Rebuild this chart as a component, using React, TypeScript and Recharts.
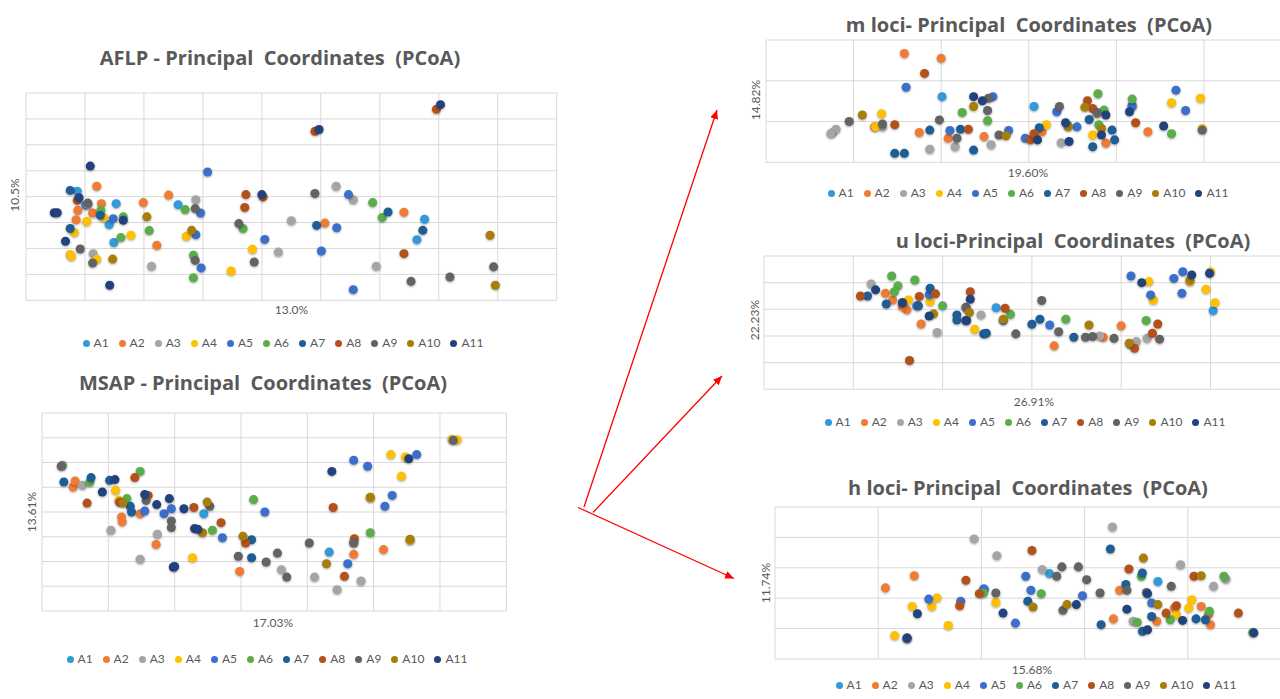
import React from 'react';
import { ScatterChart, Scatter, XAxis, YAxis, ZAxis, CartesianGrid, Legend } from 'recharts';

type Pt = [number, number];

const SERIES = ['A1', 'A2', 'A3', 'A4', 'A5', 'A6', 'A7', 'A8', 'A9', 'A10', 'A11'];
const COLORS = ['#3399DB', '#F07B34', '#A5A5A5', '#FFC000', '#3C6FCB', '#5AAE4A', '#1F5E94', '#B4501A', '#636363', '#A87E0A', '#22427E'];

// ---------- AFLP ----------
const AFLP_A1: Pt[] = [[0.87, 4.21], [1.53, 3.73], [1.41, 2.92], [1.49, 2.23], [2.58, 3.69], [6.76, 3.13], [6.63, 2.34], [1.01, 3.68]];
const AFLP_A2: Pt[] = [[1.2, 4.4], [1.28, 3.73], [0.88, 3.47], [0.85, 3.11], [1.13, 3.37], [1.99, 3.77], [2.42, 4.06], [2.22, 2.12], [5.07, 2.98], [6.41, 3.4]];
const AFLP_A3: Pt[] = [[1.05, 3.7], [2.88, 3.88], [2.13, 1.31], [1.14, 1.8], [4.28, 1.86], [4.5, 3.07], [5.26, 4.4], [5.55, 3.88], [5.94, 1.31]];
const AFLP_A4: Pt[] = [[1.03, 3.04], [0.82, 2.62], [0.75, 1.77], [1.2, 1.58], [1.32, 3.19], [1.78, 2.51], [2.72, 2.47], [3.84, 1.97], [3.48, 1.13], [0.77, 1.7]];
const AFLP_A5: Pt[] = [[3.08, 4.95], [2.96, 3.37], [2.88, 2.53], [2.97, 1.25], [1.48, 3.15], [4.05, 2.35], [5.01, 1.9], [5.27, 2.8], [5.47, 4.08], [5.55, 0.41]];
const AFLP_A6: Pt[] = [[1.27, 3.47], [1.61, 2.42], [1.65, 3.22], [2.09, 2.69], [2.7, 3.5], [2.84, 1.74], [2.84, 0.87], [3.68, 2.77], [5.88, 3.77], [6.04, 3.19]];
const AFLP_A7: Pt[] = [[0.75, 4.24], [0.75, 2.77], [1.26, 3.28], [4.93, 2.89], [6.73, 2.7], [6.14, 3.41]];
const AFLP_A8: Pt[] = [[6.96, 7.37], [4.9, 6.52], [3.73, 4.08], [3.71, 3.58], [4.02, 3.99], [6.41, 1.8], [0.87, 3.86]];
const AFLP_A9: Pt[] = [[0.92, 1.98], [1.13, 1.44], [2.87, 3.54], [2.87, 1.54], [3.61, 2.96], [3.87, 1.48], [4.9, 4.12], [6.53, 0.73], [7.19, 0.9], [7.93, 1.29], [1.05, 3.75]];
const AFLP_A10: Pt[] = [[2.05, 3.22], [2.81, 2.7], [1.47, 1.59], [7.87, 2.51], [7.96, 0.58]];
const AFLP_A11: Pt[] = [[0.48, 3.38], [0.53, 3.38], [1.09, 5.18], [0.9, 3.96], [1.42, 0.58], [0.67, 2.28], [1.65, 3.09], [7.03, 7.55], [4.97, 6.59], [4.0, 4.08]];
const AFLP_SERIES = [AFLP_A1, AFLP_A2, AFLP_A3, AFLP_A4, AFLP_A5, AFLP_A6, AFLP_A7, AFLP_A8, AFLP_A9, AFLP_A10, AFLP_A11];
const AFLP_X_TICKS = [0, 1, 2, 3, 4, 5, 6, 7, 8, 9];
const AFLP_Y_TICKS = [0, 1, 2, 3, 4, 5, 6, 7, 8];

// ---------- MSAP ----------
const MSAP_A1: Pt[] = [[2.44, 3.93], [4.33, 2.38]];
const MSAP_A2: Pt[] = [[0.47, 5.01], [0.5, 5.25], [1.2, 3.8], [1.21, 3.6], [1.48, 3.93], [1.72, 2.69], [2.98, 1.6], [4.7, 2.29], [5.15, 2.48]];
const MSAP_A3: Pt[] = [[0.61, 5.08], [1.04, 3.26], [1.74, 3.1], [1.48, 2.09], [3.61, 1.67], [4.11, 1.37], [4.45, 0.86], [4.81, 1.21], [4.7, 2.79]];
const MSAP_A4: Pt[] = [[6.18, 6.94], [6.26, 6.92], [5.26, 6.32], [5.48, 6.22], [5.42, 5.44], [4.95, 4.58], [5.55, 2.86], [2.27, 2.15], [1.11, 4.88], [1.16, 4.47]];
const MSAP_A5: Pt[] = [[4.7, 6.09], [4.91, 5.85], [5.65, 6.32], [5.28, 4.67], [5.17, 4.23], [3.36, 4.0], [4.61, 1.91], [1.55, 4.04], [1.84, 3.93], [2.72, 2.96], [1.95, 4.13]];
const MSAP_A6: Pt[] = [[0.31, 5.89], [1.48, 5.64], [1.28, 4.54], [3.19, 4.5], [2.57, 3.26], [4.95, 3.16], [0.72, 5.2]];
const MSAP_A7: Pt[] = [[0.33, 5.21], [0.74, 5.39], [1.33, 4.23], [1.35, 4.0], [3.16, 2.88], [3.16, 2.15], [1.02, 5.28]];
const MSAP_A8: Pt[] = [[0.68, 4.36], [1.4, 5.39], [1.17, 4.4], [1.6, 4.67], [2.29, 4.18], [2.7, 3.57], [3.07, 2.75], [4.39, 4.18], [4.71, 2.92], [4.56, 1.4]];
const MSAP_A9: Pt[] = [[0.29, 5.85], [1.57, 4.47], [1.95, 3.64], [1.95, 3.37], [2.53, 4.23], [2.96, 2.21], [3.38, 1.98], [3.55, 2.34], [3.69, 1.37], [4.03, 2.75], [4.7, 2.75], [6.2, 6.9]];
const MSAP_A10: Pt[] = [[1.22, 4.36], [2.49, 4.4], [2.42, 3.16], [3.03, 3.02], [4.29, 1.91], [5.55, 2.9], [4.95, 4.6]];
const MSAP_A11: Pt[] = [[5.53, 6.15], [4.37, 5.64], [0.91, 4.81], [1.1, 5.31], [1.55, 4.71], [1.92, 4.54], [2.3, 3.33], [1.98, 1.78], [2.14, 4.13], [1.73, 4.3], [2.35, 3.3], [2.0, 1.8]];
const MSAP_SERIES = [MSAP_A1, MSAP_A2, MSAP_A3, MSAP_A4, MSAP_A5, MSAP_A6, MSAP_A7, MSAP_A8, MSAP_A9, MSAP_A10, MSAP_A11];
const MSAP_X_TICKS = [0, 1, 2, 3, 4, 5, 6, 7];
const MSAP_Y_TICKS = [0, 1, 2, 3, 4, 5, 6, 7, 8];

// ---------- m loci ----------
const M_A1: Pt[] = [[2.01, 1.61], [3.06, 1.37], [4.18, 1.4]];
const M_A2: Pt[] = [[1.58, 2.67], [2.0, 2.55], [1.75, 0.73], [1.24, 0.87], [2.08, 0.59], [2.49, 0.63], [4.36, 0.75], [3.88, 0.47], [3.15, 0.75]];
const M_A3: Pt[] = [[0.76, 0.73], [0.8, 0.81], [1.87, 0.32], [2.16, 0.38], [2.57, 0.43], [3.37, 0.48], [3.78, 1.2], [1.33, 0.87], [0.74, 0.7]];
const M_A4: Pt[] = [[1.32, 1.19], [1.25, 0.87], [3.2, 0.92], [3.73, 0.67], [4.63, 1.46], [4.96, 1.57], [4.98, 0.83]];
const M_A5: Pt[] = [[1.6, 1.84], [2.59, 1.61], [2.1, 0.78], [2.77, 0.78], [3.32, 1.24], [2.96, 0.59], [3.55, 0.87], [4.68, 1.77], [4.79, 1.27], [4.18, 1.37]];
const M_A6: Pt[] = [[2.24, 1.22], [2.53, 1.02], [3.79, 1.68], [3.86, 1.28], [3.8, 0.92], [4.18, 1.55], [4.63, 0.7], [3.45, 0.9]];
const M_A7: Pt[] = [[1.47, 0.22], [1.58, 0.22], [1.87, 0.79], [2.22, 0.81], [2.37, 0.3], [3.12, 0.85], [3.69, 1.05], [3.73, 0.38], [3.95, 0.79], [3.98, 0.55]];
const M_A8: Pt[] = [[1.81, 2.18], [1.47, 0.92], [2.31, 0.81], [3.67, 1.51], [3.73, 1.32], [4.22, 0.97], [3.02, 0.55], [3.06, 0.7]];
const M_A9: Pt[] = [[0.95, 1.0], [1.33, 0.94], [1.98, 1.04], [2.18, 0.59], [2.53, 1.27], [2.54, 1.57], [2.66, 0.67], [3.35, 1.37], [3.78, 1.22], [4.98, 0.79]];
const M_A10: Pt[] = [[1.1, 1.16], [2.37, 1.37], [2.74, 0.65], [3.45, 0.87], [3.64, 1.35], [3.83, 0.83]];
const M_A11: Pt[] = [[2.37, 1.61], [2.47, 1.51], [3.42, 0.97], [3.46, 0.51], [3.1, 0.55], [3.88, 1.16], [4.15, 1.24], [4.54, 0.89], [3.83, 0.67]];
const M_SERIES = [M_A1, M_A2, M_A3, M_A4, M_A5, M_A6, M_A7, M_A8, M_A9, M_A10, M_A11];
const M_X_TICKS = [0, 1, 2, 3, 4, 5, 6];
const M_Y_TICKS = [0, 1, 2, 3];

// ---------- u loci ----------
const U_A1: Pt[] = [[2.6, 3.06], [5.03, 2.95], [4.1, 1.7]];
const U_A2: Pt[] = [[1.36, 3.6], [1.44, 3.35], [1.6, 2.98], [1.76, 2.45], [3.25, 1.63], [4.0, 2.38], [3.8, 1.95], [1.55, 3.1]];
const U_A3: Pt[] = [[1.2, 3.95], [1.94, 2.13], [2.43, 2.79], [3.76, 2.0], [4.17, 1.79], [4.29, 1.91], [2.27, 3.04]];
const U_A4: Pt[] = [[1.62, 3.35], [1.86, 3.29], [2.36, 2.25], [4.31, 4.04], [4.36, 3.35], [4.77, 4.04], [4.95, 3.75], [5.05, 3.25], [5.0, 4.41]];
const U_A5: Pt[] = [[4.11, 4.25], [4.33, 3.54], [4.59, 4.16], [4.69, 4.41], [4.68, 3.6], [3.2, 2.41], [1.71, 3.13], [2.68, 2.58], [1.85, 3.55]];
const U_A6: Pt[] = [[1.43, 4.25], [1.5, 3.88], [1.46, 3.66], [1.69, 4.1], [2.0, 3.13], [2.76, 2.81], [3.38, 2.63], [4.28, 2.58]];
const U_A7: Pt[] = [[1.16, 3.5], [1.37, 3.2], [1.73, 3.13], [1.86, 3.79], [2.16, 2.79], [2.16, 2.6], [2.27, 2.58], [2.46, 2.08], [3.0, 2.44], [3.09, 2.63], [3.47, 1.95], [2.49, 2.1]];
const U_A8: Pt[] = [[1.08, 3.5], [1.74, 3.48], [1.92, 3.58], [2.31, 3.66], [2.7, 3.04], [1.63, 1.08], [4.41, 2.45], [4.35, 2.1], [4.15, 1.54]];
const U_A9: Pt[] = [[3.11, 3.33], [2.26, 3.08], [2.82, 2.08], [3.3, 2.16], [3.6, 1.95], [3.68, 1.98], [3.92, 1.91], [4.43, 1.88], [1.55, 3.25]];
const U_A10: Pt[] = [[1.9, 2.83], [2.3, 2.88], [2.68, 2.63], [3.64, 2.41], [4.09, 1.73], [4.77, 4.1]];
const U_A11: Pt[] = [[1.25, 3.73], [1.55, 3.25], [1.85, 2.75], [2.31, 3.38], [2.26, 2.58], [4.23, 4.0], [4.79, 4.29], [4.99, 4.35]];
const U_SERIES = [U_A1, U_A2, U_A3, U_A4, U_A5, U_A6, U_A7, U_A8, U_A9, U_A10, U_A11];
const U_X_TICKS = [0, 1, 2, 3, 4, 5, 6];
const U_Y_TICKS = [0, 1, 2, 3, 4, 5];

// ---------- h loci ----------
const H_A1: Pt[] = [[2.66, 2.81], [3.71, 2.55], [2.03, 2.3]];
const H_A2: Pt[] = [[1.07, 2.34], [1.35, 2.74], [3.28, 1.32], [3.34, 2.26], [4.13, 1.73], [4.2, 1.46], [4.22, 1.13], [3.7, 1.24], [3.87, 1.68]];
const H_A3: Pt[] = [[1.93, 3.95], [2.15, 3.4], [2.59, 2.94], [3.27, 4.34], [3.93, 3.1], [4.25, 2.39], [4.37, 2.63], [3.47, 1.24]];
const H_A4: Pt[] = [[1.33, 1.73], [1.52, 1.73], [1.57, 2.01], [1.68, 1.1], [1.16, 0.77], [2.14, 1.86], [3.89, 1.46], [4.04, 1.95], [4.01, 1.68], [1.28, 0.7]];
const H_A5: Pt[] = [[1.49, 1.97], [1.8, 1.9], [2.02, 2.3], [2.43, 2.72], [2.48, 2.26], [2.33, 1.18], [2.98, 2.08], [3.65, 1.84]];
const H_A6: Pt[] = [[2.02, 2.17], [2.58, 2.15], [3.51, 1.21], [3.55, 2.72], [3.83, 1.29], [4.21, 1.57], [4.35, 2.72], [4.63, 0.88]];
const H_A7: Pt[] = [[3.25, 3.62], [3.56, 2.83], [2.45, 1.9], [3.16, 1.13], [3.56, 0.91], [3.65, 1.4], [4.08, 1.32], [4.17, 1.29], [3.4, 2.45]];
const H_A8: Pt[] = [[1.85, 2.59], [1.98, 2.15], [1.79, 1.75], [2.49, 3.57], [3.43, 2.96], [4.06, 2.72], [3.89, 1.75], [3.79, 1.51], [4.49, 1.51]];
const H_A9: Pt[] = [[2.14, 2.17], [2.73, 2.72], [2.78, 3.03], [2.94, 3.03], [3.02, 2.61], [2.79, 1.6], [3.15, 2.17], [3.41, 2.26], [3.84, 2.39], [3.6, 2.19], [1.28, 0.68]];
const H_A10: Pt[] = [[3.57, 3.32], [4.13, 2.74], [2.83, 1.79], [2.5, 1.71], [3.71, 1.79]];
const H_A11: Pt[] = [[1.38, 1.49], [1.28, 0.69], [2.21, 1.51], [2.92, 1.79], [3.41, 1.64], [3.61, 2.15], [3.61, 0.96], [3.95, 1.27], [4.64, 0.86]];
const H_SERIES = [H_A1, H_A2, H_A3, H_A4, H_A5, H_A6, H_A7, H_A8, H_A9, H_A10, H_A11];
const H_X_TICKS = [0, 1, 2, 3, 4, 5];
const H_Y_TICKS = [0, 1, 2, 3, 4, 5];

const TEXT = '#595959';
const FONT = 'Lato, "Open Sans", sans-serif';
const TITLE_FONT = '"Open Sans", Lato, sans-serif';

interface Box { x: number; y: number; w: number; h: number }
interface Pos { cx: number; cy: number }

interface PanelProps {
  series: Pt[][];
  plot: Box;
  xTicks: number[];
  yTicks: number[];
  title: string;
  titlePos: Pos;
  xLabel: string;
  xLabelPos: Pos;
  yLabel: string;
  yLabelPos: Pos;
  legendPos: Pos;
}

const NoTick = () => <g />;

const Panel: React.FC<PanelProps> = ({ series, plot, xTicks, yTicks, title, titlePos, xLabel, xLabelPos, yLabel, yLabelPos, legendPos }) => {
  const M = 10;
  const BOTTOM = 80;
  const left = plot.x - M;
  const top = plot.y - M;
  const w = plot.w + 2 * M;
  const h = plot.h + M + BOTTOM;
  const legendW = 470;
  return (
    <>
      <div style={{ position: 'absolute', left, top, width: w, height: h }}>
        <ScatterChart width={w} height={h} margin={{ top: M, left: M, right: M, bottom: BOTTOM }}>
          <CartesianGrid stroke="#D9D9D9" strokeWidth={1} />
          <XAxis
            type="number"
            dataKey="x"
            domain={[xTicks[0], xTicks[xTicks.length - 1]]}
            ticks={xTicks}
            interval={0}
            tick={NoTick}
            tickLine={false}
            axisLine={false}
            height={0}
            allowDataOverflow
          />
          <YAxis
            type="number"
            dataKey="y"
            domain={[yTicks[0], yTicks[yTicks.length - 1]]}
            ticks={yTicks}
            interval={0}
            tick={NoTick}
            tickLine={false}
            axisLine={false}
            width={0}
            allowDataOverflow
          />
          <ZAxis range={[78, 78]} />
          <Legend
            layout="horizontal"
            verticalAlign="middle"
            align="center"
            iconType="circle"
            iconSize={7}
            itemSorter={(item: any) => SERIES.indexOf(item.value)}
            formatter={(v: any) => <span style={{ color: TEXT }}>{v}</span>}
            wrapperStyle={{
              left: legendPos.cx - legendW / 2 - left + 5,
              top: legendPos.cy - 9 - top,
              width: legendW,
              height: 18,
              fontSize: 12,
              lineHeight: '18px',
              fontFamily: FONT,
            }}
          />
          {series.map((pts, i) => (
            <Scatter
              key={SERIES[i]}
              name={SERIES[i]}
              data={pts.map(([x, y]) => ({ x, y }))}
              fill={COLORS[i]}
              shape="circle"
              isAnimationActive={false}
            />
          ))}
        </ScatterChart>
      </div>
      <div
        style={{
          position: 'absolute',
          left: titlePos.cx,
          top: titlePos.cy,
          transform: 'translate(-50%, -50%)',
          whiteSpace: 'pre',
          fontWeight: 700,
          fontSize: 20,
          lineHeight: 1,
          color: TEXT,
          fontFamily: TITLE_FONT,
        }}
      >
        {title}
      </div>
      <div
        style={{
          position: 'absolute',
          left: xLabelPos.cx,
          top: xLabelPos.cy,
          transform: 'translate(-50%, -50%)',
          whiteSpace: 'pre',
          fontSize: 12,
          lineHeight: 1,
          color: TEXT,
        }}
      >
        {xLabel}
      </div>
      <div
        style={{
          position: 'absolute',
          left: yLabelPos.cx,
          top: yLabelPos.cy,
          transform: 'translate(-50%, -50%) rotate(-90deg)',
          whiteSpace: 'pre',
          fontSize: 12,
          lineHeight: 1,
          color: TEXT,
        }}
      >
        {yLabel}
      </div>
    </>
  );
};

const Arrows: React.FC = () => (
  <svg width={1280} height={699} style={{ position: 'absolute', left: 0, top: 0, pointerEvents: 'none' }}>
    <defs>
      <marker id="redArrow" markerWidth="9" markerHeight="8" refX="9" refY="4" orient="auto" markerUnits="userSpaceOnUse">
        <path d="M0,0 L9,4 L0,8 z" fill="#FF0000" />
      </marker>
    </defs>
    <line x1={584} y1={507} x2={717} y2={110} stroke="#FF0000" strokeWidth={1.3} markerEnd="url(#redArrow)" />
    <line x1={593} y1={512.5} x2={722} y2={376} stroke="#FF0000" strokeWidth={1.3} markerEnd="url(#redArrow)" />
    <line x1={578} y1={507.5} x2={734} y2={578.5} stroke="#FF0000" strokeWidth={1.3} markerEnd="url(#redArrow)" />
  </svg>
);

export default function App() {
  return (
    <div
      style={{
        position: 'fixed',
        left: 0,
        top: 0,
        width: 1280,
        height: 699,
        overflow: 'hidden',
        background: '#ffffff',
        fontFamily: FONT,
      }}
    >
      <style>{`.recharts-scatter-symbol path { filter: drop-shadow(0.8px 1px 0.8px rgba(0,0,0,0.35)); }`}</style>
      <Panel
        series={AFLP_SERIES}
        plot={{ x: 25.7, y: 92.7, w: 530.7, h: 207.3 }}
        xTicks={AFLP_X_TICKS}
        yTicks={AFLP_Y_TICKS}
        title="AFLP - Principal  Coordinates  (PCoA)"
        titlePos={{ cx: 280, cy: 57.5 }}
        xLabel="13.0%"
        xLabelPos={{ cx: 291.5, cy: 310 }}
        yLabel="10.5%"
        yLabelPos={{ cx: 15, cy: 195 }}
        legendPos={{ cx: 283, cy: 343 }}
      />
      <Panel
        series={MSAP_SERIES}
        plot={{ x: 42.1, y: 412.7, w: 464.3, h: 198 }}
        xTicks={MSAP_X_TICKS}
        yTicks={MSAP_Y_TICKS}
        title="MSAP - Principal  Coordinates  (PCoA)"
        titlePos={{ cx: 263, cy: 383 }}
        xLabel="17.03%"
        xLabelPos={{ cx: 273, cy: 622.7 }}
        yLabel="13.61%"
        yLabelPos={{ cx: 31.5, cy: 511.7 }}
        legendPos={{ cx: 267, cy: 659 }}
      />
      <Panel
        series={M_SERIES}
        plot={{ x: 765.7, y: 40, w: 525.6, h: 122.3 }}
        xTicks={M_X_TICKS}
        yTicks={M_Y_TICKS}
        title="m loci- Principal  Coordinates  (PCoA)"
        titlePos={{ cx: 1029, cy: 25 }}
        xLabel="19.60%"
        xLabelPos={{ cx: 1028, cy: 172.7 }}
        yLabel="14.82%"
        yLabelPos={{ cx: 755.7, cy: 100 }}
        legendPos={{ cx: 1028, cy: 192.7 }}
      />
      <Panel
        series={U_SERIES}
        plot={{ x: 763.5, y: 256, w: 535.8, h: 133.3 }}
        xTicks={U_X_TICKS}
        yTicks={U_Y_TICKS}
        title="u loci-Principal  Coordinates  (PCoA)"
        titlePos={{ cx: 1073, cy: 241 }}
        xLabel="26.91%"
        xLabelPos={{ cx: 1034, cy: 401.7 }}
        yLabel="22.23%"
        yLabelPos={{ cx: 755, cy: 320 }}
        legendPos={{ cx: 1025, cy: 421.7 }}
      />
      <Panel
        series={H_SERIES}
        plot={{ x: 775.2, y: 507.3, w: 516, h: 152 }}
        xTicks={H_X_TICKS}
        yTicks={H_Y_TICKS}
        title="h loci- Principal  Coordinates  (PCoA)"
        titlePos={{ cx: 1028, cy: 488 }}
        xLabel="15.68%"
        xLabelPos={{ cx: 1032, cy: 670 }}
        yLabel="11.74%"
        yLabelPos={{ cx: 765.7, cy: 583.3 }}
        legendPos={{ cx: 1036, cy: 685 }}
      />
      <Arrows />
    </div>
  );
}
